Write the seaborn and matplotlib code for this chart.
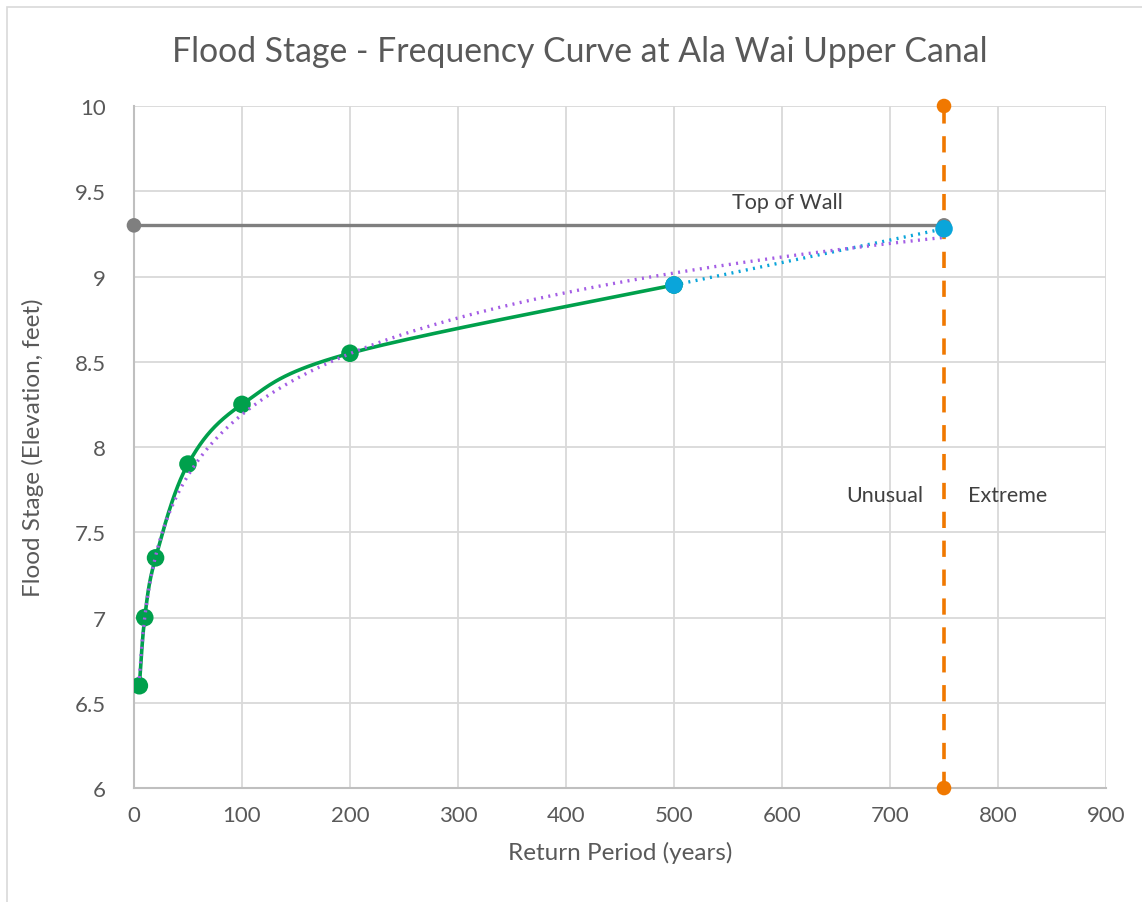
import numpy as np
import pandas as pd
import matplotlib
matplotlib.use("Agg")
import matplotlib.pyplot as plt
from matplotlib.patches import Rectangle
import seaborn as sns

# Observed flood stages by return period
return_period = [5, 10, 20, 50, 100, 200, 500]
flood_stage = [6.6, 7.0, 7.35, 7.9, 8.25, 8.55, 8.95]

# Extrapolated segment out to the 750-year event
extrap_period = [500, 750]
extrap_stage = [8.95, 9.28]

# Top of wall elevation
wall_period = [0, 750]
wall_stage = [9.3, 9.3]

# Unusual / Extreme boundary
boundary_period = [750, 750]
boundary_stage = [6, 10]

x_ticks = [0, 100, 200, 300, 400, 500, 600, 700, 800, 900]
y_ticks = [6, 6.5, 7, 7.5, 8, 8.5, 9, 9.5, 10]
y_tick_labels = ["6", "6.5", "7", "7.5", "8", "8.5", "9", "9.5", "10"]

GREEN = "#00A04C"
BLUE = "#0AA5DA"
ORANGE = "#F07800"
GRAY = "#7F7F7F"
PURPLE = "#A45EE5"
TEXT = "#595959"

sns.set_theme(style="whitegrid")
plt.rcParams["font.family"] = ["Lato", "DejaVu Sans"]

fig = plt.figure(figsize=(11.42, 9.03), dpi=100)
ax = fig.add_axes([0.1173, 0.1262, 0.8512, 0.7553])
fig.patches.append(Rectangle((7 / 1142, -0.1), 1.2, (903 - 8) / 903 + 0.1,
                             transform=fig.transFigure, fill=False,
                             edgecolor="#D9D9D9", linewidth=1.2))

ax.set_xlim(0, 900)
ax.set_ylim(6, 10)
ax.set_xticks(x_ticks)
ax.set_yticks(y_ticks)
ax.set_yticklabels(y_tick_labels)


def smooth_curve(xs, ys, sx, sy, n=40):
    """Catmull-Rom style smoothing computed in screen-proportional space."""
    px = np.asarray(xs, float) * sx
    py = np.asarray(ys, float) * sy
    pts = np.column_stack([px, py])
    ext = np.vstack([pts[0], pts, pts[-1]])
    out = []
    for i in range(1, len(ext) - 2):
        p0, p1, p2, p3 = ext[i - 1], ext[i], ext[i + 1], ext[i + 2]
        c1 = p1 + (p2 - p0) / 6.0
        c2 = p2 - (p3 - p1) / 6.0
        t = np.linspace(0, 1, n)[:, None]
        seg = ((1 - t) ** 3) * p1 + 3 * ((1 - t) ** 2) * t * c1 + 3 * (1 - t) * t ** 2 * c2 + t ** 3 * p2
        out.append(seg if i == 1 else seg[1:])
    out = np.vstack(out)
    return out[:, 0] / sx, out[:, 1] / sy


# pixel scale of the axes (data units -> pixels)
sx = 972 / 900
sy = 682 / 4

cx, cy = smooth_curve(return_period, flood_stage, sx, sy)
curve = pd.DataFrame({"x": cx, "y": cy})

# Logarithmic trendline fitted to observed stages
coef = np.polyfit(np.log(return_period), flood_stage, 1)
tx = np.linspace(return_period[0], 750, 300)
trend = pd.DataFrame({"x": tx, "y": coef[0] * np.log(tx) + coef[1]})

line_kw = dict(ax=ax, sort=False, estimator=None, errorbar=None)

sns.lineplot(data=pd.DataFrame({"x": wall_period, "y": wall_stage}), x="x", y="y",
             color=GRAY, linewidth=2.4, zorder=3, **line_kw)
sns.scatterplot(x=wall_period, y=wall_stage, ax=ax, color=GRAY, s=110,
                edgecolor="none", zorder=4, clip_on=False)

sns.lineplot(data=curve, x="x", y="y", color=GREEN, linewidth=2.6, zorder=5, **line_kw)
sns.scatterplot(x=return_period, y=flood_stage, ax=ax, color=GREEN, s=160,
                edgecolor="none", zorder=6)

sns.lineplot(data=pd.DataFrame({"x": extrap_period, "y": extrap_stage}), x="x", y="y",
             color=BLUE, linewidth=2.4, linestyle=(0, (0.6, 1.6)), zorder=5, **line_kw)

sns.lineplot(data=trend, x="x", y="y", color=PURPLE, linewidth=2.4,
             linestyle=(0, (0.6, 1.6)), zorder=7, **line_kw)

sns.lineplot(data=pd.DataFrame({"x": boundary_period, "y": boundary_stage}), x="x", y="y",
             color=ORANGE, linewidth=2.6, linestyle=(0, (4.5, 3.5)), zorder=8, **line_kw)
sns.scatterplot(x=boundary_period, y=boundary_stage, ax=ax, color=ORANGE, s=110,
                edgecolor="none", zorder=9, clip_on=False)

sns.scatterplot(x=extrap_period, y=extrap_stage, ax=ax, color=BLUE, s=160,
                edgecolor="none", zorder=10)

ax.text(605, 9.435, "Top of Wall", ha="center", va="center", fontsize=15.5, color="#404040")
ax.text(695, 7.72, "Unusual", ha="center", va="center", fontsize=15.5, color="#404040")
ax.text(809, 7.72, "Extreme", ha="center", va="center", fontsize=15.5, color="#404040")

fig.text(580 / 1142, 1 - 52 / 903, "Flood Stage - Frequency Curve at Ala Wai Upper Canal",
         ha="center", va="center", fontsize=24.3, color=TEXT)
ax.set_xlabel("Return Period (years)", fontsize=17.5, color=TEXT, labelpad=12)
ax.set_ylabel("Flood Stage (Elevation, feet)", fontsize=17.5, color=TEXT, labelpad=22)

ax.tick_params(axis="both", labelsize=16, colors=TEXT, length=0)
ax.tick_params(axis="y", pad=20)
ax.tick_params(axis="x", pad=12)
ax.grid(True, color="#D9D9D9", linewidth=1.3)
ax.set_facecolor("white")
for side in ["top", "right"]:
    ax.spines[side].set_visible(False)
for side in ["left", "bottom"]:
    ax.spines[side].set_color("#BFBFBF")
    ax.spines[side].set_linewidth(1.5)

fig.savefig("out.png", dpi=100, facecolor="white")
